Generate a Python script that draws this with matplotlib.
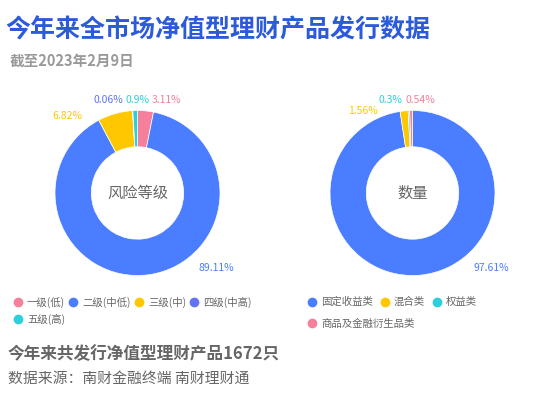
import matplotlib
matplotlib.use("Agg")
import matplotlib.pyplot as plt
from matplotlib.lines import Line2D

plt.rcParams['font.family'] = ['Noto Sans CJK SC', 'DejaVu Sans']

# risk level shares (%)
risk_labels = ["一级(低)", "二级(中低)", "三级(中)", "四级(中高)", "五级(高)"]
risk_values = [3.11, 89.11, 6.82, 0.06, 0.9]
risk_colors = ["#f5809b", "#4a7dff", "#ffc700", "#6272f0", "#2ccfdb"]

# product type shares (%)
type_labels = ["固定收益类", "混合类", "权益类", "商品及金融衍生品类"]
type_values = [97.61, 1.56, 0.3, 0.54]
type_colors = ["#4a7dff", "#ffc700", "#2ccfdb", "#f5809b"]

W, H = 550, 394
fig = plt.figure(figsize=(W / 100, H / 100), dpi=100)


def px(x, y):
    return x / W, 1 - y / H


def donut(cx, cy, values, colors, center_text, label_pos):
    r = 82.5
    ax = fig.add_axes([(cx - r) / W, 1 - (cy + r) / H, 2 * r / W, 2 * r / H])
    ax.pie(values, colors=colors, startangle=90, counterclock=False,
           radius=1, wedgeprops=dict(width=0.44, edgecolor="white", linewidth=0.5))
    ax.set_xlim(-1, 1)
    ax.set_ylim(-1, 1)
    ax.set_aspect("equal")
    ax.axis("off")
    ax.text(0, 0, center_text, ha="center", va="center", fontsize=11, color="#666666")
    for v, c, (x, y, ha) in zip(values, colors, label_pos):
        ax.text(x, y, f"{v:g}%", ha=ha, va="center", fontsize=7.5, color=c, clip_on=False)
    return ax


# label anchors (x, y, alignment) in donut units
risk_lab_pos = [(0.176, 1.13, "left"), (0.745, -0.91, "left"), (-0.67, 0.93, "right"),
                (-0.176, 1.13, "right"), (0.0, 1.13, "center")]
type_lab_pos = [(0.745, -0.91, "left"), (-0.418, 0.99, "right"),
                (-0.127, 1.13, "right"), (-0.08, 1.13, "left")]

donut(137.5, 193, risk_values, risk_colors, "风险等级", risk_lab_pos)
donut(412.5, 193, type_values, type_colors, "数量", type_lab_pos)


def handles(labels, colors):
    return [Line2D([], [], linestyle="none", marker="o", markersize=6,
                   markerfacecolor=c, markeredgecolor=c, label=l)
            for l, c in zip(labels, colors)]


def legend_row(labels, colors, x, y, spacing):
    leg = fig.legend(handles=handles(labels, colors), loc="center left",
                     bbox_to_anchor=px(x, y), ncol=len(labels), frameon=False,
                     fontsize=7.5, labelcolor="#666666", handlelength=0.8,
                     handletextpad=0.45, columnspacing=spacing, borderpad=0,
                     borderaxespad=0)
    return leg


legend_row(risk_labels[:4], risk_colors[:4], 14, 302, 0.4)
legend_row(risk_labels[4:], risk_colors[4:], 14, 319, 0.4)
legend_row(type_labels[:3], type_colors[:3], 308, 302, 0.75)
legend_row(type_labels[3:], type_colors[3:], 308, 324, 0.75)

fig.text(*px(5, 30), "今年来全市场净值型理财产品发行数据", fontsize=18,
         fontweight="bold", color="#2c5ad8", va="center", ha="left")
fig.text(*px(10, 61), "截至2023年2月9日", fontsize=10.5, fontweight="bold",
         color="#999999", va="center", ha="left")
fig.text(*px(8, 354), "今年来共发行净值型理财产品1672只", fontsize=12,
         fontweight="bold", color="#666666", va="center", ha="left")
fig.text(*px(8, 379), "数据来源：南财金融终端 南财理财通", fontsize=10.7,
         color="#666666", va="center", ha="left")

fig.savefig("out.png", dpi=100, facecolor="white")
